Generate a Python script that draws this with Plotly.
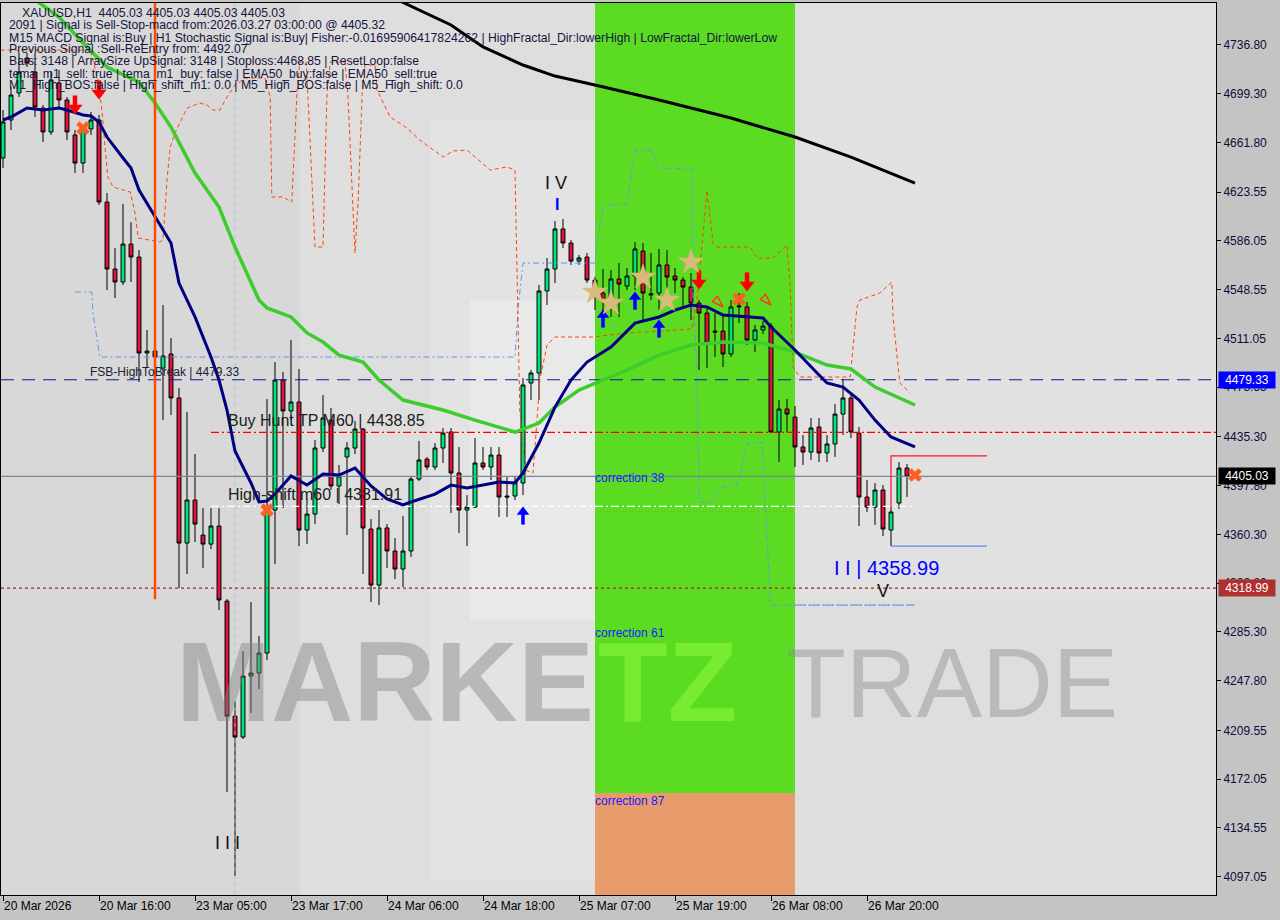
import plotly.graph_objects as go

# ---------------- layout geometry ----------------
W, H = 1280, 920
ML, MR, MT, MB = 1, 64, 3, 25
PW, PH = W - ML - MR, H - MT - MB
X_MIN, X_MAX = -0.25, 151.625
Y_MIN, Y_MAX = 4083.0, 4769.1
PPU = PH / (Y_MAX - Y_MIN)  # pixels per price unit


def pxx(xp):
    return (xp - ML) / PW


def pyy(yp):
    return 1 - (yp - MT) / PH


# ---------------- data ----------------
tick_idx = [0, 12, 24, 36, 48, 60, 72, 84, 96, 108]
tick_labels = ["20 Mar 2026", "20 Mar 16:00", "23 Mar 05:00", "23 Mar 17:00", "24 Mar 06:00",
               "24 Mar 18:00", "25 Mar 07:00", "25 Mar 19:00", "26 Mar 08:00", "26 Mar 20:00"]
price_ticks = [4097.05, 4134.55, 4172.05, 4209.55, 4247.80, 4285.30, 4322.80, 4360.30, 4397.80,
               4435.30, 4473.55, 4511.05, 4548.55, 4586.05, 4623.55, 4661.80, 4699.30, 4736.80]

opens = [4649.9, 4679.1, 4699.9, 4726.8, 4716.0, 4688.3, 4669.9, 4707.6, 4694.5, 4667.6,
         4646.0, 4672.2, 4679.1, 4616.0, 4564.5, 4554.5, 4583.7, 4573.7, 4499.9, 4501.4,
         4488.3, 4499.1, 4465.3, 4353.7, 4386.8, 4359.9, 4352.9, 4366.8, 4309.1, 4220.6,
         4204.5, 4251.4, 4253.7, 4269.1, 4379.1, 4479.1, 4455.3, 4462.2, 4363.7, 4376.0,
         4426.8, 4448.3, 4397.6, 4419.9, 4426.8, 4441.4, 4364.5, 4321.4, 4365.3, 4347.6,
         4333.7, 4347.6, 4402.9, 4418.3, 4412.2, 4426.8, 4439.1, 4407.6, 4379.1, 4381.4,
         4415.3, 4412.2, 4421.4, 4389.9, 4389.9, 4399.9, 4476.8, 4484.5, 4547.6, 4564.5,
         4595.3, 4584.5, 4570.6, 4573.7, 4556.0, 4546.0, 4543.0, 4556.8, 4551.4, 4559.1,
         4578.3, 4544.5, 4546.0, 4567.6, 4559.1, 4556.0, 4550.6, 4538.3, 4530.6, 4516.8,
         4516.8, 4499.1, 4535.3, 4535.3, 4509.9, 4517.6, 4520.6, 4439.1, 4456.8, 4450.6,
         4427.6, 4423.7, 4443.0, 4423.0, 4429.9, 4452.9, 4465.3, 4438.3, 4389.1, 4381.4,
         4394.5, 4363.7, 4384.5, 4411.4]
highs = [4686.8, 4704.5, 4730.6, 4730.6, 4730.6, 4690.6, 4716.0, 4717.6, 4696.8, 4671.4,
         4675.3, 4685.3, 4683.0, 4623.0, 4580.6, 4614.5, 4600.6, 4579.1, 4517.6, 4503.7,
         4536.8, 4511.4, 4472.9, 4454.5, 4422.2, 4380.6, 4380.6, 4380.6, 4310.7, 4232.2,
         4270.6, 4308.3, 4282.2, 4464.5, 4492.9, 4485.3, 4509.9, 4487.6, 4387.6, 4433.0,
         4467.6, 4457.6, 4413.7, 4431.4, 4447.6, 4442.2, 4372.2, 4379.1, 4368.3, 4357.6,
         4374.5, 4405.3, 4432.2, 4419.9, 4430.6, 4442.2, 4442.2, 4427.6, 4390.6, 4434.5,
         4427.6, 4427.6, 4427.6, 4404.5, 4404.5, 4480.6, 4486.8, 4552.2, 4573.0, 4601.4,
         4603.0, 4586.8, 4575.3, 4576.8, 4558.3, 4564.5, 4563.7, 4569.1, 4565.3, 4585.3,
         4584.5, 4576.8, 4579.9, 4579.1, 4565.3, 4558.3, 4561.4, 4540.6, 4535.3, 4530.6,
         4529.1, 4540.6, 4546.0, 4539.1, 4521.4, 4524.5, 4522.9, 4463.7, 4464.5, 4459.1,
         4436.8, 4449.9, 4449.9, 4436.8, 4460.6, 4479.9, 4467.6, 4443.0, 4402.2, 4399.9,
         4398.3, 4381.4, 4416.0, 4414.5]
lows = [4642.2, 4671.4, 4696.8, 4719.9, 4681.4, 4662.2, 4667.6, 4689.1, 4663.7, 4638.3,
        4638.3, 4667.6, 4613.7, 4548.3, 4542.2, 4552.2, 4554.5, 4477.6, 4488.3, 4494.5,
        4448.3, 4452.2, 4319.1, 4329.9, 4354.5, 4334.5, 4349.1, 4302.2, 4162.2, 4097.6,
        4203.0, 4223.0, 4241.4, 4263.7, 4337.6, 4380.6, 4448.3, 4351.4, 4352.9, 4368.3,
        4423.7, 4394.5, 4383.7, 4359.9, 4422.2, 4329.9, 4308.3, 4306.0, 4334.5, 4326.0,
        4319.9, 4343.0, 4401.4, 4409.9, 4409.9, 4415.3, 4376.8, 4361.4, 4351.4, 4380.6,
        4409.9, 4402.2, 4373.7, 4373.7, 4386.8, 4390.6, 4463.7, 4463.7, 4536.8, 4553.7,
        4580.6, 4567.6, 4567.6, 4553.7, 4533.0, 4526.8, 4527.6, 4527.6, 4548.3, 4548.3,
        4525.3, 4540.6, 4533.0, 4540.6, 4546.0, 4535.3, 4525.3, 4486.8, 4488.3, 4496.8,
        4489.1, 4496.8, 4523.0, 4506.0, 4500.6, 4514.5, 4439.1, 4416.0, 4439.1, 4412.2,
        4413.7, 4417.6, 4416.0, 4416.0, 4419.9, 4436.8, 4434.5, 4366.8, 4377.6, 4367.6,
        4359.1, 4351.4, 4380.0, 4389.1]
closes = [4677.6, 4698.3, 4716.0, 4723.0, 4689.1, 4669.9, 4709.9, 4694.5, 4669.9, 4646.0,
          4671.4, 4679.1, 4616.0, 4564.5, 4554.5, 4583.7, 4573.7, 4499.9, 4501.4, 4496.8,
          4497.6, 4465.3, 4353.7, 4386.8, 4368.3, 4352.9, 4366.8, 4309.9, 4220.6, 4204.5,
          4251.4, 4253.7, 4269.1, 4380.6, 4479.1, 4455.3, 4462.2, 4363.7, 4376.0, 4426.8,
          4449.9, 4397.6, 4405.3, 4426.8, 4441.4, 4365.3, 4321.4, 4365.3, 4347.6, 4333.7,
          4347.6, 4402.9, 4417.6, 4412.2, 4426.8, 4438.3, 4407.6, 4379.1, 4381.4, 4415.3,
          4412.2, 4421.4, 4389.1, 4389.1, 4400.6, 4475.3, 4484.5, 4547.6, 4564.5, 4595.3,
          4584.5, 4570.6, 4573.0, 4556.0, 4546.8, 4539.9, 4556.8, 4552.9, 4559.1, 4579.9,
          4546.0, 4545.3, 4567.6, 4558.3, 4556.0, 4550.6, 4538.3, 4530.6, 4507.6, 4516.0,
          4499.1, 4535.3, 4536.0, 4509.9, 4517.6, 4520.6, 4439.1, 4456.8, 4452.9, 4427.6,
          4423.7, 4442.2, 4423.0, 4429.9, 4452.9, 4465.3, 4439.1, 4389.1, 4381.4, 4394.5,
          4364.5, 4377.6, 4411.4, 4405.03]
bar_idx = list(range(len(closes)))

ema200_idx = [49, 50, 56, 60, 65, 69, 74, 82, 91, 99, 106, 114]
ema200_val = [4773.0, 4769.5, 4752.2, 4735.3, 4721.4, 4712.9, 4706.0, 4694.5, 4680.6, 4666.0, 4650.6, 4630.6]

ema50_idx = [3, 7, 10, 13, 17, 19, 21, 24, 27, 29, 32, 33, 36, 38, 40, 42, 45, 47, 50, 55, 59, 64,
             67, 69, 72, 75, 78, 82, 86, 90, 95, 99, 103, 106, 109, 114]
ema50_val = [4776.0, 4758.3, 4738.3, 4719.9, 4708.3, 4692.2, 4673.7, 4638.3, 4612.2, 4581.4, 4540.6,
             4534.5, 4527.6, 4515.3, 4508.3, 4498.3, 4492.9, 4479.1, 4463.7, 4456.0, 4448.3, 4439.1,
             4446.0, 4458.3, 4471.4, 4479.1, 4486.8, 4498.3, 4506.0, 4508.3, 4507.6, 4500.6, 4490.6,
             4487.6, 4473.7, 4459.9]

ema20_idx = [0, 1, 3, 5, 7, 8, 10, 11, 12, 13, 15, 16, 17, 19, 21, 22, 24, 26, 27, 28, 29, 31, 32,
             33, 34, 36, 38, 40, 42, 44, 46, 48, 50, 51, 54, 56, 58, 60, 62, 64, 65, 67, 69, 71, 73,
             76, 79, 82, 84, 86, 88, 90, 95, 96, 99, 102, 103, 105, 107, 109, 111, 114]
ema20_val = [4679.1, 4681.4, 4688.3, 4686.8, 4688.3, 4686.8, 4683.0, 4682.2, 4677.6, 4666.0,
             4649.9, 4642.2, 4625.2, 4604.5, 4584.5, 4553.7, 4527.6, 4496.8, 4479.1, 4456.0,
             4424.5, 4399.9, 4385.3, 4386.0, 4391.4, 4405.3, 4398.3, 4406.8, 4406.0, 4411.4,
             4397.6, 4387.6, 4383.0, 4385.3, 4391.4, 4398.3, 4396.0, 4398.3, 4400.6, 4399.9,
             4407.6, 4430.6, 4458.3, 4479.1, 4492.9, 4504.5, 4522.9, 4527.6, 4532.9, 4536.8,
             4535.3, 4529.1, 4526.8, 4519.9, 4502.2, 4483.0, 4476.8, 4473.7, 4463.7, 4448.3,
             4435.3, 4427.6]

band_hi_idx = [-0.3, 10.9, 11.9, 12.1, 12.4, 12.75, 13.1, 13.75, 15.9, 16.5, 16.9, 19.6, 20.0, 20.5,
               20.9, 21.5, 23.0, 24.6, 25.5, 26.25, 27.1, 28.0, 29.0, 30.25, 32.75, 33.4, 33.6, 35.0,
               36.1, 36.75, 37.1, 37.9, 38.1, 39.0, 40.0, 40.5, 40.9, 42.75, 43.1, 44.0, 44.4, 44.9,
               45.25, 46.5, 46.75, 48.4, 50.5, 52.1, 55.0, 56.25, 58.0, 60.9, 63.0, 64.0, 64.25,
               64.6, 65.25, 66.25, 66.75, 67.1, 68.0, 69.0, 73.75, 78.0, 86.1, 86.75, 88.0, 88.75,
               89.25, 93.4, 94.25, 96.25, 98.0, 98.4, 98.75, 99.6, 105.9, 106.75, 107.1, 109.6,
               111.1, 111.25, 112.1, 113.4]
band_hi_val = [4732.9, 4732.9, 4709.9, 4699.9, 4684.5, 4658.3, 4635.3, 4627.6, 4623.7, 4607.6,
               4588.3, 4585.3, 4586.8, 4633.0, 4658.3, 4669.1, 4688.3, 4692.2, 4690.6, 4686.8,
               4686.8, 4696.8, 4706.0, 4711.4, 4711.4, 4696.8, 4619.9, 4619.9, 4616.0, 4699.9,
               4723.7, 4723.7, 4699.9, 4581.4, 4581.4, 4699.9, 4723.7, 4723.7, 4699.9, 4576.8,
               4617.6, 4699.9, 4721.4, 4721.4, 4702.2, 4681.4, 4672.9, 4663.7, 4650.6, 4655.3,
               4656.0, 4640.6, 4643.0, 4640.6, 4566.0, 4456.0, 4409.9, 4407.6, 4448.3, 4479.1,
               4506.0, 4512.2, 4512.2, 4515.3, 4518.3, 4540.6, 4625.2, 4584.5, 4581.4, 4581.4,
               4572.9, 4572.9, 4582.9, 4550.6, 4489.1, 4481.4, 4481.4, 4535.3, 4540.6, 4546.0,
               4554.5, 4527.6, 4476.8, 4469.1]

band_lo_idx = [9.0, 11.1, 11.25, 12.1, 64.0, 64.4, 65.0, 74.0, 74.25, 75.0, 78.0, 79.0, 81.1, 81.9,
               86.1, 86.25, 86.75, 86.9, 87.1, 88.4, 90.0, 91.75, 92.4, 93.0, 94.9, 95.25, 95.9,
               96.0, 114.0]
band_lo_val = [4546.8, 4546.8, 4530.6, 4496.8, 4496.8, 4535.3, 4569.1, 4569.1, 4584.5, 4613.7,
               4614.5, 4656.0, 4656.0, 4642.2, 4641.4, 4540.6, 4489.1, 4425.3, 4385.3, 4385.3,
               4396.8, 4398.3, 4412.2, 4430.6, 4431.4, 4386.8, 4309.9, 4306.0, 4306.0]

fsb_level = 4479.33
hunt_tp_level = 4438.85
last_price = 4405.03
high_shift_level = 4381.91
low_level = 4318.99
low_ext_level = 4306.0
box_top, box_bot = 4420.7, 4351.4
box_start, box_end = 111, 123
box_tick_end = 4381.4
levels_start = 26
signal_bar, signal_bar_low = 19, 4310.5
session_sep = 29

zone_start, zone_end = 74, 99
zone_split = 4161.4
corr_labels = ["correction 38", "correction 61", "correction 87"]
corr_levels = [4403.7, 4284.5, 4155.3]

sell_arrow_idx = [9, 12, 87, 93]
sell_arrow_val = [4690.6, 4702.2, 4556.0, 4554.5]
buy_arrow_idx = [65, 75, 79, 82]
buy_arrow_val = [4375.3, 4526.8, 4540.6, 4519.1]
exit_idx = [10, 33, 92, 114]
exit_val = [4672.9, 4379.1, 4541.4, 4406.0]
star_idx = [74, 76, 80, 83, 86]
star_val = [4546.8, 4538.3, 4558.3, 4540.6, 4569.9]
hollow_idx = [90, 96]
hollow_val = [4535.3, 4536.8]

info_lines = [
    "XAUUSD,H1  4405.03 4405.03 4405.03 4405.03",
    "2091 | Signal is Sell-Stop-macd from:2026.03.27 03:00:00 @ 4405.32",
    "M15 MACD Signal is:Buy | H1 Stochastic Signal is:Buy| Fisher:-0.01695906417824262 | HighFractal_Dir:lowerHigh | LowFractal_Dir:lowerLow",
    "Previous Signal :Sell-ReEntry from: 4492.07",
    "Bars: 3148 | ArraySize UpSignal: 3148 | Stoploss:4468.85 | ResetLoop:false",
    "tema_m1_sell: true | tema_m1_buy: false | EMA50_buy:false | EMA50_sell:true",
    "M1_High_BOS:false | High_shift_m1: 0.0 | M5_High_BOS:false | M5_High_shift: 0.0",
]

FONT = "Liberation Sans, Arial, sans-serif"
fig = go.Figure()

# ---------------- background shapes ----------------
shapes = [
    dict(type="rect", xref="paper", yref="paper", x0=pxx(300), x1=1, y0=0, y1=1,
         fillcolor="rgba(255,255,255,0.16)", line_width=0, layer="below"),
    dict(type="rect", xref="paper", yref="paper", x0=pxx(430), x1=pxx(600), y0=pyy(880), y1=pyy(120),
         fillcolor="rgba(255,255,255,0.16)", line_width=0, layer="below"),
    dict(type="path", xref="paper", yref="paper",
         path=f"M {pxx(470)} {pyy(300)} L {pxx(600)} {pyy(300)} L {pxx(600)} {pyy(620)} L {pxx(470)} {pyy(620)} Z",
         fillcolor="rgba(255,255,255,0.22)", line_width=0, layer="below"),
    dict(type="rect", xref="paper", yref="paper", x0=pxx(800), x1=1, y0=pyy(600), y1=1,
         fillcolor="rgba(255,255,255,0.10)", line_width=0, layer="below"),
    dict(type="rect", xref="x", yref="y", x0=zone_start, x1=zone_end, y0=zone_split, y1=Y_MAX,
         fillcolor="#5bdc22", line_width=0, layer="below"),
    dict(type="rect", xref="x", yref="y", x0=zone_start, x1=zone_end, y0=Y_MIN, y1=zone_split,
         fillcolor="#e89b6b", line_width=0, layer="below"),
    dict(type="path", xref="paper", yref="paper",
         path=f"M {pxx(595)} {pyy(420)} L {pxx(700)} {pyy(560)} L {pxx(795)} {pyy(420)} L {pxx(795)} {pyy(480)} "
              f"L {pxx(700)} {pyy(620)} L {pxx(595)} {pyy(480)} Z",
         fillcolor="rgba(40,150,60,0.22)", line_width=0, layer="below"),
    dict(type="rect", xref="paper", yref="paper", x0=pxx(716), x1=pxx(736), y0=pyy(793), y1=pyy(240),
         fillcolor="rgba(40,150,60,0.2)", line_width=0, layer="below"),
    dict(type="rect", xref="paper", yref="paper", x0=pxx(748), x1=pxx(778), y0=pyy(725), y1=pyy(637),
         fillcolor="#6f8092", line_width=0, layer="below"),
]

# ---------------- watermark ----------------
WM_Y = 4239.0
fig.add_trace(go.Scatter(x=[(176 - 3) / 8], y=[WM_Y], mode="text", text=["MARKE"],
                         textposition="middle right",
                         textfont=dict(family=FONT, size=114, color="rgba(130,130,130,0.45)", weight="bold"),
                         hoverinfo="skip", showlegend=False))
fig.add_trace(go.Scatter(x=[(598 - 3) / 8], y=[WM_Y], mode="text", text=["TZ"],
                         textposition="middle right",
                         textfont=dict(family=FONT, size=114, color="rgba(125,238,50,0.85)", weight="bold"),
                         hoverinfo="skip", showlegend=False))
fig.add_trace(go.Scatter(x=[(786 - 3) / 8], y=[WM_Y], mode="text", text=["TRADE"],
                         textposition="middle right",
                         textfont=dict(family=FONT, size=98, color="rgba(135,135,135,0.42)"),
                         hoverinfo="skip", showlegend=False))


def line(x, y, color, width=1, dash="solid"):
    fig.add_trace(go.Scatter(x=x, y=y, mode="lines", line=dict(color=color, width=width, dash=dash),
                             hoverinfo="skip", showlegend=False))


# session separator
line([session_sep, session_sep], [Y_MIN, Y_MAX], "rgba(150,200,195,0.8)", 1, "4px,4px")

# step bands
line(band_lo_idx, band_lo_val, "#6495ed", 1, "6px,3px,2px,3px")
line(band_hi_idx, band_hi_val, "#ff4500", 1, "4px,3px")

# horizontal levels
line([X_MIN, X_MAX], [fsb_level, fsb_level], "#1515a0", 1.2, "13px,8px")
line([levels_start, X_MAX], [hunt_tp_level, hunt_tp_level], "#ff0000", 1.2, "8px,3px,2px,3px")
line([X_MIN, X_MAX], [last_price, last_price], "#7a8796", 1.2)
line([levels_start, 114], [high_shift_level, high_shift_level], "#ffffff", 1.2, "8px,3px,2px,3px")
line([X_MIN, X_MAX], [low_level, low_level], "#b02020", 1.2, "3px,3px")
line([zone_end, 114], [low_ext_level, low_ext_level], "#6495ed", 1, "6px,3px,2px,3px")
line([box_start, box_start, box_end], [box_tick_end, box_top, box_top], "#ff1030", 1.2)
line([box_start, box_end], [box_bot, box_bot], "#5a8cf0", 1.2)

# moving averages
line(ema200_idx, ema200_val, "#000000", 3)
line(ema50_idx, ema50_val, "#3ccc2c", 3.5)
line(ema20_idx, ema20_val, "#000080", 3)

# signal bar vertical
line([signal_bar, signal_bar], [Y_MAX + 10, signal_bar_low], "#ff4a00", 2.5)

# candles
fig.add_trace(go.Candlestick(
    x=bar_idx, open=opens, high=highs, low=lows, close=closes,
    increasing=dict(fillcolor="#00e676", line=dict(color="#000000", width=1)),
    decreasing=dict(fillcolor="#dc143c", line=dict(color="#000000", width=1)),
    whiskerwidth=0, hoverinfo="skip", showlegend=False))


def markers(x, y, symbol, color, size, lw=0, lc=None, angle=0):
    fig.add_trace(go.Scatter(x=x, y=y, mode="markers",
                             marker=dict(symbol=symbol, color=color, size=size, angle=angle,
                                         line=dict(width=lw, color=lc or color)),
                             hoverinfo="skip", showlegend=False))


def arrows(x, y, direction, color, head, stem_w):
    # direction: -1 = down arrow, +1 = up arrow; head and stem offsets in pixels
    markers(x, [v + direction * 3 / PPU for v in y],
            "triangle-up" if direction > 0 else "triangle-down", color, head)
    markers(x, [v - direction * 4 / PPU for v in y], "line-ns", color, 8, lw=stem_w)


arrows(sell_arrow_idx, sell_arrow_val, -1, "#ff0000", 13, 4.5)
arrows(buy_arrow_idx, buy_arrow_val, 1, "#0000ff", 11, 3.5)
markers(exit_idx, exit_val, "x", "#ff5f1f", 12)
markers(star_idx, star_val, "star", "#d9b97c", 20)
markers(hollow_idx, hollow_val, "arrow-open", "#ff3a1a", 12, lw=1.5, angle=135)

# ---------------- annotations ----------------
ann = []
for k, t in enumerate(info_lines):
    yp = [13, 25.5, 37.5, 49.5, 61.5, 73.5, 85.5][k]
    xp = 20 if k == 0 else 7
    ann.append(dict(xref="paper", yref="paper", x=pxx(xp), y=pyy(yp), xanchor="left", yanchor="middle",
                    text=t, showarrow=False, font=dict(family=FONT, size=12.2, color="#15153f")))


def label(x, y, text, size, color, anchor="left", bold=False):
    ann.append(dict(xref="x", yref="y", x=x, y=y, xanchor=anchor, yanchor="middle", text=text,
                    showarrow=False,
                    font=dict(family=FONT, size=size, color=color, weight="bold" if bold else "normal")))


label(10.6, 4485.3, "FSB-HighToBreak | 4479.33", 12, "#202030")
label(27.9, 4448.3, "Buy Hunt TP M60 | 4438.85", 16, "#202020")
label(27.9, 4391.4, "High-shift m60 | 4381.91", 16, "#202020")
for t, lv in zip(corr_labels, corr_levels):
    label(zone_start - 0.3, lv, t, 12, "#1a1aff")
label(69.1, 4630.6, "I V", 18, "#101010", anchor="center")
label(69.25, 4614.5, "I", 16, "#0000ff", anchor="center", bold=True)
label(28.1, 4122.9, "I I I", 18, "#101010", anchor="center")
label(103.6, 4334.5, "I I | 4358.99", 20, "#0000ff")
label(110.0, 4317.0, "V", 18, "#101010", anchor="center")

for val, bg in [(fsb_level, "#0000ff"), (last_price, "#000000"), (low_level, "#b03030")]:
    ann.append(dict(xref="paper", yref="y", x=pxx(1218), y=val, xanchor="left", yanchor="middle",
                    text=f"{val:.2f}", showarrow=False, bgcolor=bg, borderpad=1, width=54,
                    font=dict(family=FONT, size=12, color="#ffffff")))

fig.update_layout(
    width=W, height=H, margin=dict(l=ML, r=MR, t=MT, b=MB),
    paper_bgcolor="#c4c4c4", plot_bgcolor="#d8d8d8",
    shapes=shapes, annotations=ann, showlegend=False,
    font=dict(family=FONT, size=12, color="#000000"),
    boxgap=0.3,
    xaxis=dict(range=[X_MIN, X_MAX], tickmode="array", tickvals=tick_idx, ticktext=tick_labels,
               ticks="outside", ticklen=5, tickcolor="#000000", showgrid=False, zeroline=False,
               showline=True, mirror=True, linecolor="#000000", linewidth=1,
               ticklabelposition="outside right", rangeslider=dict(visible=False),
               tickfont=dict(family=FONT, size=12, color="#000000"), fixedrange=True),
    yaxis=dict(range=[Y_MIN, Y_MAX], side="right", tickmode="array", tickvals=price_ticks,
               ticktext=[f"{v:.2f}" for v in price_ticks], ticks="outside", ticklen=4,
               tickcolor="#000000", showgrid=False, zeroline=False, showline=True, mirror=True,
               linecolor="#000000", linewidth=1,
               tickfont=dict(family=FONT, size=12, color="#0c0c3c"), fixedrange=True),
)

fig.write_html("out.html", config={"displayModeBar": False},
               post_script="document.body.style.margin='0';document.body.style.overflow='hidden';")
